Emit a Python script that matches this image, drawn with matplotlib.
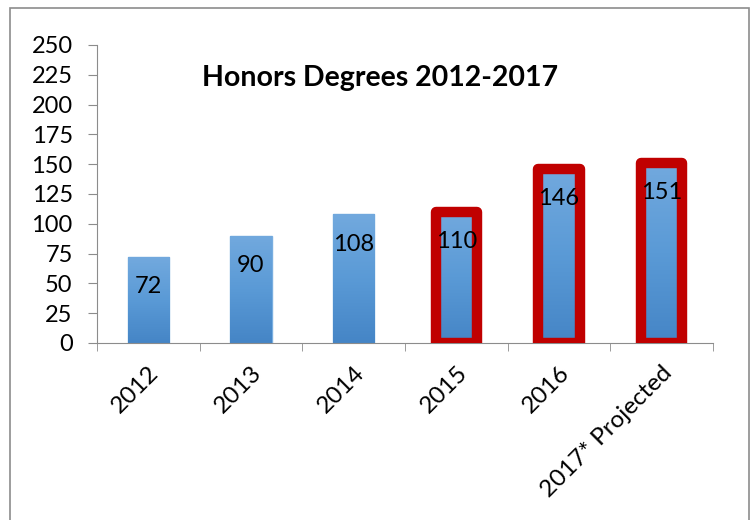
import matplotlib
matplotlib.use("Agg")
import matplotlib.pyplot as plt
import numpy as np
from matplotlib.colors import LinearSegmentedColormap
from matplotlib.patches import Rectangle

years = ["2012", "2013", "2014", "2015", "2016", "2017* Projected"]
degrees = [72, 90, 108, 110, 146, 151]
highlight = [False, False, False, True, True, True]
yticks = [0, 25, 50, 75, 100, 125, 150, 175, 200, 225, 250]

plt.rcParams['font.family'] = ['Lato', 'DejaVu Sans']

fig = plt.figure(figsize=(7.54, 5.20), dpi=100)
ax = fig.add_axes([0.1286, 0.3404, 0.817, 0.5731])

# outer chart frame (runs off the bottom of the image)
fig.patches.append(Rectangle((10 / 754, -0.1), 739 / 754, 1.1 - 8 / 520,
                             transform=fig.transFigure, fill=False,
                             edgecolor="#8c8c8c", linewidth=1.2))

x = np.arange(len(years))
width = 0.4
bars = ax.bar(x, degrees, width, color="#5b9bd5", edgecolor="#79aee0", linewidth=1, zorder=2)

# vertical gradient inside every bar
cmap = LinearSegmentedColormap.from_list("blu", ["#4585c6", "#5a9ad6", "#72a9de"])
grad = np.linspace(0, 1, 256).reshape(-1, 1)
for b in bars:
    x0, y0 = b.get_x(), b.get_y()
    im = ax.imshow(grad, cmap=cmap, aspect="auto", origin="lower",
                   extent=[x0, x0 + b.get_width(), y0, y0 + b.get_height()], zorder=2.5)
    im.set_clip_path(b)

# thick red frames around the last three years
for i, v in enumerate(degrees):
    if highlight[i]:
        ax.bar(x[i], v, width, facecolor="none", edgecolor="#c00000",
               linewidth=7.5, joinstyle="round", zorder=3)
    ax.text(x[i], v - 25, str(v), ha="center", va="center", fontsize=17, zorder=4)

ax.set_xlim(-0.5, 5.5)
ax.set_ylim(0, 250)
ax.set_yticks(yticks)
ax.tick_params(axis="y", labelsize=17, length=6.5, color="#8c8c8c", pad=11)

ax.set_xticks(x)
ax.set_xticklabels(years, rotation=45, ha="right", va="top", rotation_mode="anchor", fontsize=17.5)
ax.tick_params(axis="x", which="major", length=0, pad=14)
ax.set_xticks(np.arange(-0.5, 6), minor=True)
ax.tick_params(axis="x", which="minor", length=6, color="#8c8c8c")

for s in ["top", "right"]:
    ax.spines[s].set_visible(False)
ax.spines["left"].set_color("#8c8c8c")
ax.spines["bottom"].set_color("#8c8c8c")

ax.text(0.17, 0.89, "Honors Degrees 2012-2017", transform=ax.transAxes,
        fontsize=20.5, fontweight="bold", ha="left", va="center")

plt.savefig("out.png", dpi=100)
